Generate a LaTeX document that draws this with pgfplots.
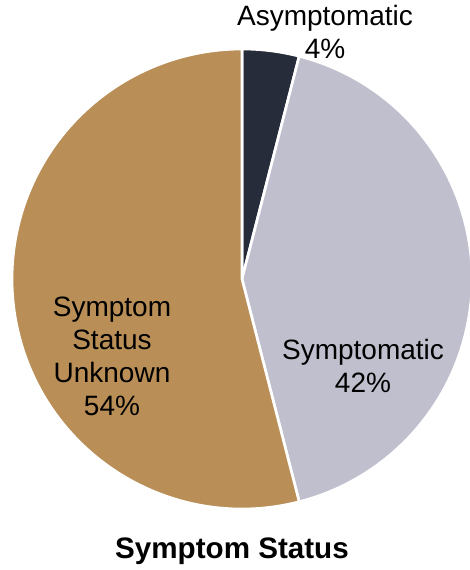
\documentclass[border=0pt]{standalone}
\usepackage{fontspec}
\setmainfont{Liberation Sans}
\usepackage{pgfplots}
\pgfplotsset{compat=1.18}
\definecolor{cAsym}{HTML}{262C3A}
\definecolor{cSym}{HTML}{C0BFCE}
\definecolor{cUnk}{HTML}{B98F57}
\begin{document}
\begin{tikzpicture}
\begin{axis}[
  scale only axis, width=351.75pt, height=427.5pt,
  xmin=0, xmax=469, ymin=0, ymax=570,
  hide axis, clip=false,
]
% values (percent): Asymptomatic 4, Symptomatic 42, Unknown 54
\def\R{172.5pt}
\fill[cAsym, draw=white, line width=2pt] (axis cs:242,291) -- ++(90:\R) arc[start angle=90, end angle={90-3.6*4}, radius=\R] -- cycle;
\fill[cSym, draw=white, line width=2pt] (axis cs:242,291) -- ++({90-3.6*4}:\R) arc[start angle={90-3.6*4}, end angle={90-3.6*(4+42)}, radius=\R] -- cycle;
\fill[cUnk, draw=white, line width=2pt] (axis cs:242,291) -- ++({90-3.6*(4+42)}:\R) arc[start angle={90-3.6*(4+42)}, end angle={90-3.6*(4+42+54)}, radius=\R] -- cycle;
\node[font=\fontsize{21}{24.75}\selectfont, align=center] at (axis cs:325,538) {Asymptomatic\\4\%};
\node[font=\fontsize{21}{24.75}\selectfont, align=center] at (axis cs:363,204) {Symptomatic\\42\%};
\node[font=\fontsize{21}{24.75}\selectfont, align=center] at (axis cs:112,214) {Symptom\\Status\\Unknown\\54\%};
\node[font=\fontsize{22.2}{26}\selectfont\bfseries] at (axis cs:232,19) {Symptom Status};
\end{axis}
\pgfresetboundingbox
\path (current axis.south west) rectangle (current axis.north east);
\end{tikzpicture}
\end{document}
